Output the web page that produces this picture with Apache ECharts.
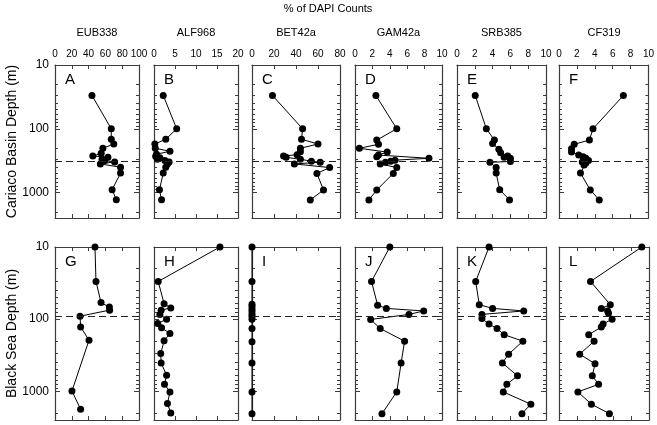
<!DOCTYPE html>
<html><head><meta charset="utf-8">
<script src="https://cdn.jsdelivr.net/npm/echarts@6/dist/echarts.min.js"></script>
<style>html,body{margin:0;padding:0;background:#fff}#c{width:657px;height:425px}</style>
</head><body><div id="c"></div>
<script>
// ---- data ----
const probes = ['EUB338', 'ALF968', 'BET42a', 'GAM42a', 'SRB385', 'CF319'];
const xMax = [100, 20, 80, 10, 10, 10];
const xStep = [20, 5, 20, 2, 2, 2];
const letters = [['A','B','C','D','E','F'], ['G','H','I','J','K','L']];
const rowNames = ['Cariaco Basin Depth (m)', 'Black Sea Depth (m)'];
const yMajor = [10, 100, 1000];
const yMinor = [20,30,40,50,60,70,80,90,200,300,400,500,600,700,800,900,2000];
const depthMin = 10, depthMax = 2500;
const interfaceDepth = [320, 92];

// Cariaco Basin: [percent, depth m]
const eub338C = [[44,30],[67,100],[67,146],[70,173],[57,202],[55,242],[45,268],[63,278],[56,300],[59,315],[71,330],[54,355],[78,400],[78,495],[68,900],[73,1290]];
const alf968C = [[2.2,30],[5.4,100],[2.8,146],[0.2,173],[0.3,202],[3.8,225],[0.6,250],[0.4,270],[1.4,285],[0.8,300],[2.6,315],[3.6,330],[3.2,355],[2.8,400],[2.2,495],[1.3,900],[1.8,1290]];
const bet42aC = [[18.6,30],[46,100],[45,146],[60,173],[44,202],[44,228],[41,255],[28.7,266],[31,280],[44,300],[54,322],[62,335],[38.5,355],[70.6,405],[59,500],[65,910],[53,1300]];
const gam42aC = [[2.4,30],[4.8,100],[2.5,150],[2.7,175],[0.5,202],[3.7,232],[2.7,258],[2.5,273],[8.5,290],[4.6,310],[4.1,322],[3.5,335],[2.9,355],[4.8,405],[4.4,500],[2.5,910],[1.6,1300]];
const srb385C = [[2.05,30],[3.3,100],[4.2,150],[4.0,170],[4.7,210],[4.9,237],[5.7,267],[5.3,280],[6.0,290],[6.0,325],[3.7,335],[4.4,405],[4.4,495],[4.8,900],[5.9,1300]];
const cf319C = [[7.2,30],[3.8,100],[3.4,150],[1.7,175],[1.4,205],[1.4,230],[2.2,258],[2.7,273],[3.0,290],[3.3,315],[2.6,330],[3.0,345],[2.8,370],[2.4,495],[3.5,910],[4.5,1300]];

// Black Sea: [percent, depth m]
const eub338B = [[47.6,10],[48.8,30],[54.8,59],[64.7,68],[65,75],[29.8,91],[30.5,128],[40.5,196],[20.2,990],[30.5,1780]];
const alf968B = [[15.7,10],[1.0,30],[2.4,61],[4.0,70],[1.7,75],[1.4,86],[3.0,100],[0.9,115],[1.8,132],[3.8,158],[2.4,200],[1.6,300],[1.7,405],[3.0,600],[2.5,800],[3.8,1020],[3.2,1480],[4.0,2000]];
const bet42aB = [[0,10],[0,30],[0,62],[0,67],[0,73],[0,79],[0,86],[0,93],[0,100],[0,135],[0,206],[0,405],[0,1020],[0,2040]];
const gam42aB = [[4.0,10],[1.9,30],[2.6,64],[3.6,71],[7.9,77],[6.2,86],[1.8,101],[2.9,135],[5.7,202],[5.3,405],[4.8,1020],[3.1,2040]];
const srb385B = [[3.6,10],[2.1,30],[2.5,63],[4.0,71],[7.5,77],[2.8,86],[2.8,98],[3.6,117],[4.5,135],[5.3,164],[7.4,202],[5.8,306],[5.1,405],[6.8,611],[5.6,800],[5.2,1020],[8.3,1510],[7.3,2040]];
const cf319B = [[9.2,10],[3.5,30],[5.7,63],[4.7,71],[5.4,77],[5.5,83],[5.9,100],[4.9,117],[4.7,129],[3.3,164],[3.9,202],[2.3,306],[4.0,415],[3.7,611],[4.4,800],[2.1,1020],[3.6,1510],[5.6,2040]];

const panelData = [
  [eub338C, alf968C, bet42aC, gam42aC, srb385C, cf319C],
  [eub338B, alf968B, bet42aB, gam42aB, srb385B, cf319B]
];

// ---- layout ----
const FONT = 'Liberation Sans';
const FRAME = '#3c3c3c';
const gridLeft = [55, 154, 252, 355, 457, 559];
const gridWidth = [84, 84, 88, 87, 89, 90];
const gridTop = [65, 247];
const gridHeight = [153, 173];

const grids = [], xAxes = [], yAxes = [], series = [], graphics = [];
for (let r = 0; r < 2; r++) {
  for (let c = 0; c < 6; c++) {
    const g = grids.length;
    grids.push({left: gridLeft[c], top: gridTop[r], width: gridWidth[c], height: gridHeight[r], containLabel: false});
    const xBase = {
      type: 'value', gridIndex: g, min: 0, max: xMax[c], interval: xStep[c],
      splitLine: {show: false},
      axisLine: {show: true, onZero: false, lineStyle: {color: FRAME, width: 1.2}},
      axisTick: {show: true, inside: true, length: 4, lineStyle: {color: FRAME}}
    };
    xAxes.push(Object.assign({}, xBase, {
      position: 'top',
      axisLabel: {show: r === 0, margin: 6, fontFamily: FONT, fontSize: 10, color: '#000'}
    }));
    xAxes.push(Object.assign({}, xBase, {position: 'bottom', axisLabel: {show: false}}));
    const yBase = {
      type: 'log', logBase: 10, gridIndex: g, min: depthMin, max: depthMax, inverse: true,
      splitLine: {show: false}, axisLabel: {show: false}
    };
    ['left', 'right'].forEach(function (pos) {
      yAxes.push(Object.assign({}, yBase, {
        position: pos,
        axisLine: {show: true, onZero: false, lineStyle: {color: FRAME, width: 1.2}},
        axisTick: {show: true, inside: true, length: 5, customValues: yMajor, lineStyle: {color: FRAME}},
        axisLabel: (pos === 'left' && c === 0) ?
          {show: true, customValues: yMajor, margin: 6, fontFamily: FONT, fontSize: 12, color: '#000',
           formatter: function (v) { return String(Math.round(v)); }} :
          {show: false}
      }));
      yAxes.push(Object.assign({}, yBase, {
        position: pos,
        axisLine: {show: false, onZero: false},
        axisTick: {show: true, inside: true, length: 3, customValues: yMinor, lineStyle: {color: FRAME}}
      }));
    });
    series.push({
      type: 'line', xAxisIndex: 2 * g, yAxisIndex: 4 * g,
      data: panelData[r][c],
      symbol: 'circle', symbolSize: 7, clip: false,
      itemStyle: {color: '#000'},
      lineStyle: {color: '#000', width: 1},
      z: 3,
      markLine: {
        silent: true, symbol: 'none', label: {show: false},
        lineStyle: {color: '#222', type: [7, 4], width: 1},
        data: [{yAxis: interfaceDepth[r]}]
      }
    });
    graphics.push({
      type: 'text', left: gridLeft[c] + 10, top: gridTop[r] + 7,
      style: {text: letters[r][c], fontFamily: FONT, fontSize: 15, fill: '#000'}
    });
  }
}
// column titles
for (let c = 0; c < 6; c++) {
  graphics.push({
    type: 'text', x: gridLeft[c] + gridWidth[c] / 2, y: 33,
    style: {text: probes[c], fontFamily: FONT, fontSize: 11, fill: '#000', align: 'center', verticalAlign: 'middle'}
  });
}
graphics.push({
  type: 'text', x: 328, y: 9,
  style: {text: '% of DAPI Counts', fontFamily: FONT, fontSize: 11, fill: '#000', align: 'center', verticalAlign: 'middle'}
});
for (let r = 0; r < 2; r++) {
  graphics.push({
    type: 'text', x: 12, y: gridTop[r] + gridHeight[r] / 2, rotation: Math.PI / 2,
    style: {text: rowNames[r], fontFamily: FONT, fontSize: 14, fill: '#000', align: 'center', verticalAlign: 'middle'}
  });
}

const chart = echarts.init(document.getElementById('c'), null, {renderer: 'canvas'});
chart.setOption({
  animation: false,
  backgroundColor: '#fff',
  grid: grids, xAxis: xAxes, yAxis: yAxes, series: series, graphic: graphics
});
</script></body></html>
